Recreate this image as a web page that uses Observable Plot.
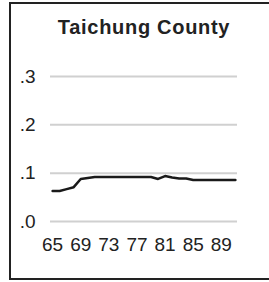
<!DOCTYPE html>
<html>
<head>
<meta charset="utf-8">
<script src="https://cdn.jsdelivr.net/npm/d3@7"></script>
<script src="https://cdn.jsdelivr.net/npm/@observablehq/plot@0.6"></script>
<style>
  html, body { margin: 0; padding: 0; background: #fff; }
  #wrap { position: relative; width: 269px; height: 282px; overflow: hidden; background: #fff; }
  #box { position: absolute; left: 9px; top: 2px; width: 300px; height: 274px; border: 2px solid #222; }
  #title { position: absolute; left: 10px; width: 268px; top: 16px; text-align: center;
    font-family: "Liberation Sans", Arial, sans-serif; font-weight: bold; font-size: 20px; letter-spacing: 0.7px; color: #222; }
  #chart { position: absolute; left: 0; top: 0; }
</style>
</head>
<body>
<div id="wrap">
  <div id="box"></div>
  <div id="title">Taichung County</div>
  <div id="chart"></div>
</div>
<script>
const titleText = "Taichung County";
const years = [65,66,67,68,69,70,71,72,73,74,75,76,77,78,79,80,81,82,83,84,85,86,87,88,89,90,91];
const values = [0.063,0.063,0.067,0.071,0.088,0.090,0.092,0.092,0.092,0.092,0.092,0.092,0.092,0.092,0.092,0.088,0.094,0.091,0.089,0.089,0.086,0.086,0.086,0.086,0.086,0.086,0.086];
const yTicks = [0, 0.1, 0.2, 0.3];
const xTicks = [65, 69, 73, 77, 81, 85, 89];

const data = years.map((y, i) => ({year: y, value: values[i]}));
const yFmt = d => d3.format(".1f")(d).replace(/^0\./, ".");

const chart = Plot.plot({
  width: 269,
  height: 282,
  marginLeft: 50,
  marginRight: 32,
  marginTop: 76,
  marginBottom: 61,
  style: {fontFamily: "'Liberation Sans', Arial, sans-serif", fontSize: "19px", color: "#222", background: "transparent"},
  x: {domain: [64.7, 91.3], label: null},
  y: {domain: [0, 0.3], label: null},
  marks: [
    Plot.ruleY(yTicks, {stroke: "#d0d0d0", strokeWidth: 2}),
    Plot.axisX({ticks: xTicks, tickSize: 0, tickPadding: 16, tickFormat: d => String(d), label: null, fontSize: 19, letterSpacing: "0.6px"}),
    Plot.axisY({ticks: yTicks, tickSize: 0, tickPadding: 15, tickFormat: yFmt, label: null, fontSize: 19}),
    Plot.line(data, {x: "year", y: "value", stroke: "#1a1a1a", strokeWidth: 2.5})
  ]
});
document.getElementById("chart").appendChild(chart);
document.getElementById("title").textContent = titleText;
</script>
</body>
</html>
